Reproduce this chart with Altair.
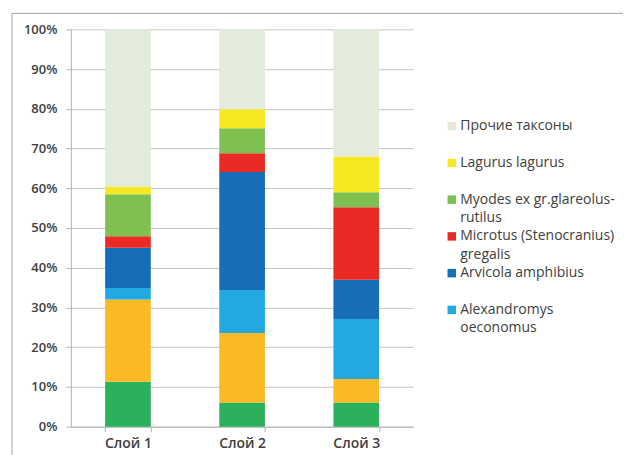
import altair as alt
import pandas as pd

# Layers (x categories)
layers = ["Слой 1", "Слой 2", "Слой 3"]

# Taxa, stacked from the bottom of each bar upward
taxa = [
    "Ellobius talpinus",
    "Microtus arvalis",
    "Alexandromys oeconomus",
    "Arvicola amphibius",
    "Microtus (Stenocranius) gregalis",
    "Myodes ex gr.glareolus-rutilus",
    "Lagurus lagurus",
    "Прочие таксоны",
]
taxa_colors = [
    "#2bb15c",
    "#fcb926",
    "#22a9e1",
    "#186db8",
    "#e92a25",
    "#7fc150",
    "#f6e923",
    "#e3ebda",
]

# Share of each taxon (%) per layer, same order as `taxa`
share_layer1 = [11.3, 20.7, 2.9, 10.1, 2.9, 10.6, 1.9, 39.6]
share_layer2 = [6.1, 17.5, 10.8, 29.7, 4.7, 6.3, 4.8, 20.1]
share_layer3 = [6.1, 5.9, 15.1, 9.9, 18.2, 3.8, 9.0, 32.0]

# Legend entries, top to bottom, with their wrapped captions
legend_taxa = [
    "Прочие таксоны",
    "Lagurus lagurus",
    "Myodes ex gr.glareolus-rutilus",
    "Microtus (Stenocranius) gregalis",
    "Arvicola amphibius",
    "Alexandromys oeconomus",
]
legend_captions = [
    "Прочие таксоны",
    "Lagurus lagurus",
    "Myodes ex gr.glareolus-\nrutilus",
    "Microtus (Stenocranius)\ngregalis",
    "Arvicola amphibius",
    "Alexandromys\noeconomus",
]
legend_slots = [0, 1, 2, 3, 4, 5]

y_ticks = list(range(0, 101, 10))

rows = []
for layer, shares in zip(layers, [share_layer1, share_layer2, share_layer3]):
    for rank, (taxon, share) in enumerate(zip(taxa, shares)):
        rows.append({"layer": layer, "taxon": taxon, "share": share, "rank": rank})
df = pd.DataFrame(rows)
legend_df = pd.DataFrame(
    {"taxon": legend_taxa, "caption": legend_captions, "slot": legend_slots}
)

FONT = "Open Sans"
TEXT = "#404040"
AXIS_GRAY = "#b3b3b3"

color = alt.Color(
    "taxon:N", scale=alt.Scale(domain=taxa, range=taxa_colors), legend=None
)

bars = alt.Chart(df).mark_bar().encode(
    x=alt.X(
        "layer:N",
        sort=layers,
        title=None,
        scale=alt.Scale(paddingInner=0.6, paddingOuter=0.3),
        axis=alt.Axis(
            labelAngle=0,
            tickBand="extent",
            tickSize=5,
            tickColor=AXIS_GRAY,
            domainColor=AXIS_GRAY,
            labelFont=FONT,
            labelFontSize=14,
            labelFontWeight=600,
            labelColor=TEXT,
            labelPadding=5,
            grid=False,
        ),
    ),
    y=alt.Y(
        "share:Q",
        stack="zero",
        title=None,
        scale=alt.Scale(domain=[0, 100], nice=False),
        axis=alt.Axis(
            values=y_ticks,
            labelExpr="datum.value + '%'",
            tickSize=5,
            tickColor=AXIS_GRAY,
            domainColor=AXIS_GRAY,
            gridColor="#c4c4c4",
            labelFont=FONT,
            labelFontSize=13,
            labelFontWeight=600,
            labelColor=TEXT,
            labelPadding=9,
        ),
    ),
    color=color,
    order=alt.Order("rank:Q"),
)

# Legend rows sit on their own linear scale, first row on top
legend_y = alt.Y(
    "slot:Q",
    scale=alt.Scale(domain=[-2.636, 8.179], reverse=True, nice=False, zero=False),
    axis=None,
)

legend_marks = alt.Chart(legend_df).mark_square(size=72, opacity=1).encode(
    x=alt.value(381.5), y=legend_y, color=color
)

legend_text = alt.Chart(legend_df).mark_text(
    align="left",
    baseline="alphabetic",
    dy=4,
    lineBreak="\n",
    lineHeight=18.5,
    font=FONT,
    fontSize=14,
    color=TEXT,
).encode(x=alt.value(390), y=legend_y, text="caption:N")

# Chart-area frame along the top and left edges
frame_src = pd.DataFrame({"k": [0]})
frame_top = alt.Chart(frame_src).mark_rule(color="#a3a3a3", strokeWidth=1).encode(
    x=alt.value(-59), x2=alt.value(553), y=alt.value(-16)
)
frame_left = alt.Chart(frame_src).mark_rule(color="#a3a3a3", strokeWidth=1).encode(
    x=alt.value(-59), y=alt.value(-16), y2=alt.value(426)
)

chart = (
    alt.layer(bars, legend_marks, legend_text, frame_top, frame_left)
    .resolve_scale(y="independent")
    .properties(
        width=343,
        height=398,
        padding={"left": 11, "top": 12, "right": 0, "bottom": 0},
        background="white",
    )
    .configure_view(stroke=None)
)

chart.save("out.html", embed_options={"renderer": "svg", "actions": False})
